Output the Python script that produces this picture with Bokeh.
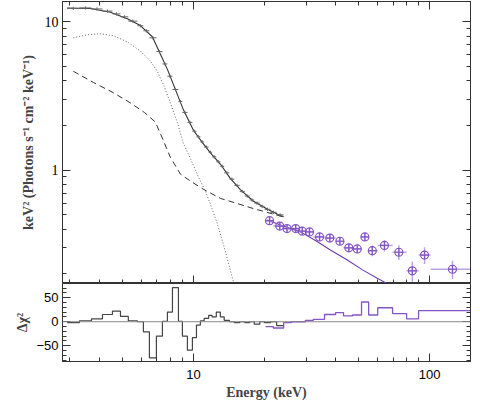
import numpy as np
from bokeh.plotting import figure
from bokeh.models import LogAxis, LinearAxis, FixedTicker, Range1d, Span, PrintfTickFormatter
from bokeh.layouts import column
from bokeh.embed import file_html
from bokeh.resources import INLINE

# ---------------- data ----------------
# black (low-energy instrument) spectral bins, keV
black_edges = [2.92, 3.29, 3.70, 4.12, 4.54, 4.91, 5.30, 5.79, 6.14, 6.51, 6.97, 7.39, 7.76,
               8.15, 8.64, 8.98, 9.43, 9.90, 10.3, 10.7, 11.1, 11.6, 12.0, 12.5, 13.0, 13.5,
               14.2, 14.9, 15.7, 16.5, 17.3, 18.1, 19.1, 20.0, 21.2, 22.5, 24.1]
black_flux = [12.3, 12.4, 12.2, 11.8, 11.3, 10.8, 10.1, 9.4, 8.7, 7.8, 6.3, 5.2, 4.3, 3.5,
              2.9, 2.45, 2.1, 1.83, 1.68, 1.55, 1.43, 1.32, 1.23, 1.14, 1.06, 0.96, 0.87,
              0.79, 0.72, 0.67, 0.63, 0.60, 0.57, 0.545, 0.52, 0.50]
black_resid = [-2, 2, 6, 15, 22, 11, 2, 0, -21, -75, -30, 1, 20, 71, 1, -30, -59, -33, -7,
               2, 7, 13, 10, 20, 10, 3, 0, -2, 0, -2, 0, -5, 0, -2, 0, -8]

# purple (high-energy instrument) bins
purple_edges = [20.2, 21.8, 24.1, 26.0, 27.9, 29.8, 32.2, 35.9, 40.0, 43.2, 47.2, 51.5,
                55.2, 60.3, 69.7, 79.9, 89.8, 101, 149]
purple_energy = [21.0, 23.2, 24.9, 27.1, 28.9, 31.0, 34.2, 37.8, 41.7, 45.5, 49.4, 53.2,
                 57.2, 64.4, 74.1, 84.5, 95.2, 125]
purple_flux = [0.457, 0.42, 0.404, 0.404, 0.388, 0.384, 0.355, 0.349, 0.332, 0.30, 0.295,
               0.355, 0.287, 0.311, 0.28, 0.21, 0.268, 0.215]
purple_err = [0.02, 0.02, 0.018, 0.018, 0.018, 0.018, 0.018, 0.018, 0.018, 0.018, 0.018,
              0.022, 0.024, 0.028, 0.032, 0.033, 0.035, 0.03]
purple_resid = [-10, -13, -2, 0, 0, 3, 5, 15, 19, 12, 14, 41, 14, 29, 17, 6, 23, 23]

# model curves
total_E = [2.92, 3.66, 4.45, 5.25, 5.96, 6.70, 7.24, 7.76, 8.39, 9.07, 10.0, 10.9, 11.8,
           13.0, 14.3, 15.8, 17.9, 20.6, 22.7, 24.1]
total_F = [12.4, 12.3, 11.6, 10.5, 9.43, 7.93, 6.06, 4.78, 3.49, 2.55, 1.86, 1.54, 1.31,
           1.10, 0.885, 0.74, 0.62, 0.545, 0.505, 0.485]
dotted_E = [3.10, 3.56, 4.04, 4.58, 5.25, 5.96, 6.57, 7.03, 7.46, 7.99, 8.56, 9.07, 9.71,
            10.5, 11.2, 11.8, 12.6, 13.6, 14.6, 15.2]
dotted_F = [7.80, 8.18, 8.31, 8.05, 7.33, 6.35, 5.43, 4.64, 3.78, 2.84, 2.08, 1.51, 1.2,
            0.9, 0.73, 0.59, 0.44, 0.29, 0.19, 0.15]
dashed_E = [3.10, 3.77, 4.58, 5.41, 6.20, 6.90, 7.24, 7.99, 8.81, 9.71, 11.0, 13.0, 15.3,
            17.9, 20.5, 23.8]
dashed_F = [4.64, 3.90, 3.33, 2.84, 2.45, 2.11, 1.77, 1.22, 0.94, 0.845, 0.745, 0.646,
            0.597, 0.552, 0.52, 0.486]
pmodel_E = [20.5, 24, 28.4, 33, 38, 45, 52, 60, 68, 72]
pmodel_F = [0.462, 0.42, 0.384, 0.335, 0.29, 0.247, 0.213, 0.187, 0.168, 0.158]

x_major = [10, 100]
x_minor = [3, 4, 5, 6, 7, 8, 9, 20, 30, 40, 50, 60, 70, 80, 90]
y_major = [1, 10]
y_minor = [0.2, 0.3, 0.4, 0.5, 0.6, 0.7, 0.8, 0.9, 2, 3, 4, 5, 6, 7, 8, 9]
r_major = [-50, 0, 50]
r_minor = [-80, -70, -60, -40, -30, -20, -10, 10, 20, 30, 40, 60, 70]

PURPLE = "#8455c4"
PURPLE_LIGHT = "#bba3e3"
PURPLE_DARK = "#6a3cb0"
INK = "#333333"


def style(ax, labels=True, font="Liberation Sans", size="13px"):
    ax.major_tick_in = 8
    ax.major_tick_out = 0
    ax.minor_tick_in = 4
    ax.minor_tick_out = 0
    ax.axis_line_color = INK
    ax.major_tick_line_color = INK
    ax.minor_tick_line_color = INK
    if labels:
        ax.major_label_text_font = font
        ax.major_label_text_font_size = size
        ax.major_label_text_color = "black"
    else:
        ax.major_label_text_font_size = "1px"
        ax.major_label_text_alpha = 0
        ax.major_label_standoff = 0
    return ax


xr = Range1d(2.79, 149)

# ---------------- top panel ----------------
p1 = figure(width=472, height=282, x_axis_type="log", y_axis_type="log",
            x_range=xr, y_range=Range1d(0.1724, 13.7),
            x_axis_location=None, y_axis_location=None,
            output_backend="svg", toolbar_location=None,
            min_border_left=62, min_border_right=2, min_border_top=0, min_border_bottom=0)
p1.outline_line_color = INK
for g in p1.grid:
    g.visible = False

yt = FixedTicker(ticks=y_major, minor_ticks=y_minor)
xt = FixedTicker(ticks=x_major, minor_ticks=x_minor)

left1 = style(LogAxis(ticker=yt, formatter=PrintfTickFormatter(format="%d")),
              font="Liberation Serif", size="14px")
left1.major_label_standoff = 4
left1.axis_label = "keV² (Photons s⁻¹ cm⁻² keV⁻¹)"
left1.axis_label_text_font = "Liberation Serif"
left1.axis_label_text_font_size = "14px"
left1.axis_label_text_font_style = "bold"
left1.axis_label_standoff = 6
p1.add_layout(left1, "left")
p1.add_layout(style(LogAxis(ticker=yt), labels=False), "right")
p1.add_layout(style(LogAxis(ticker=xt), labels=False), "above")
p1.add_layout(style(LogAxis(ticker=xt), labels=False), "below")

# model components
p1.line(dashed_E, dashed_F, line_color=INK, line_width=1, line_dash="6 4")
p1.line(dotted_E, dotted_F, line_color="#666666", line_width=1, line_dash="1 2")
p1.line(total_E, total_F, line_color=INK, line_width=1.1)
p1.line(pmodel_E, pmodel_F, line_color=PURPLE_DARK, line_width=1.1)

# black data: horizontal bin bars with small vertical errors
be = np.array(black_edges)
bf = np.array(black_flux)
bc = np.sqrt(be[:-1] * be[1:])
p1.segment(x0=be[:-1], x1=be[1:], y0=bf, y1=bf, line_color="#666666", line_width=1)
p1.segment(x0=bc, x1=bc, y0=bf * 0.975, y1=bf * 1.025, line_color="#666666", line_width=1)

# purple data
pe = np.array(purple_edges)
pf = np.array(purple_flux)
perr = np.array(purple_err)
px = np.array(purple_energy)
p1.segment(x0=pe[:-1], x1=pe[1:], y0=pf, y1=pf, line_color=PURPLE_LIGHT, line_width=1.5)
p1.segment(x0=px, x1=px, y0=pf - perr, y1=pf + perr, line_color=PURPLE_LIGHT, line_width=1.5)
p1.scatter(px, pf, marker="circle_cross", size=8, fill_color=None,
           line_color=PURPLE, line_width=1.2)

# ---------------- residual panel ----------------
p2 = figure(width=472, height=119, x_axis_type="log",
            x_range=xr, y_range=Range1d(-82.6, 79.4),
            x_axis_location=None, y_axis_location=None,
            output_backend="svg", toolbar_location=None,
            min_border_left=62, min_border_right=2, min_border_top=0, min_border_bottom=0)
p2.outline_line_color = INK
for g in p2.grid:
    g.visible = False

rt = FixedTicker(ticks=r_major, minor_ticks=r_minor)
left2 = style(LinearAxis(ticker=rt), font="Liberation Sans", size="13px")
left2.major_label_standoff = 4
left2.axis_label = "Δχ²"
left2.axis_label_text_font = "Liberation Serif"
left2.axis_label_text_font_size = "14px"
left2.axis_label_text_font_style = "bold"
left2.axis_label_standoff = 3
p2.add_layout(left2, "left")
p2.add_layout(style(LinearAxis(ticker=rt), labels=False), "right")

bottom2 = style(LogAxis(ticker=xt, formatter=PrintfTickFormatter(format="%d")),
                font="Liberation Sans", size="13px")
bottom2.major_label_standoff = 8
bottom2.axis_label = "Energy (keV)"
bottom2.axis_label_text_font = "Liberation Serif"
bottom2.axis_label_text_font_size = "14px"
bottom2.axis_label_text_font_style = "bold"
bottom2.axis_label_standoff = 3
p2.add_layout(bottom2, "below")

p2.add_layout(Span(location=0, dimension="width", line_color="#888888", line_width=1))

p2.step(x=black_edges, y=black_resid + [black_resid[-1]], mode="after",
        line_color="#444444", line_width=1.2)
p2.step(x=purple_edges, y=purple_resid + [purple_resid[-1]], mode="after",
        line_color=PURPLE, line_width=1.3)

layout = column(p1, p2, spacing=0)
layout.styles = {"margin-top": "1px"}

open("out.html", "w").write(file_html(layout, INLINE))
